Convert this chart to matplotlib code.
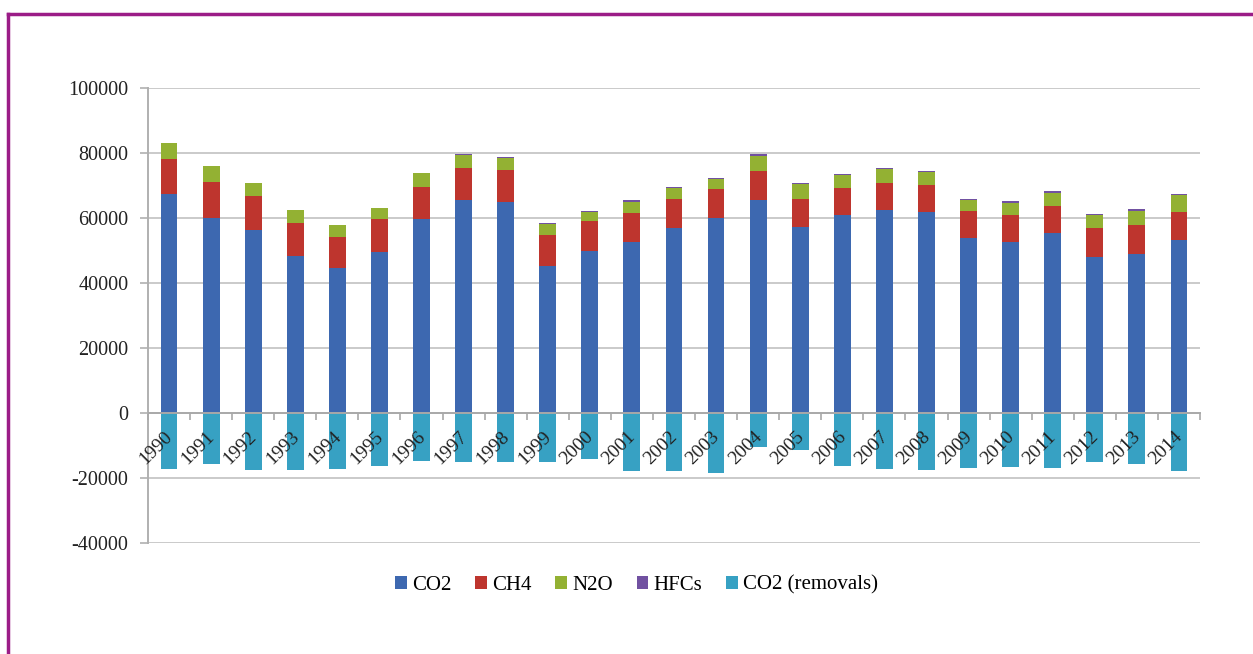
import numpy as np
import matplotlib
matplotlib.use('Agg')
import matplotlib.pyplot as plt
import matplotlib.transforms as mtransforms
from matplotlib.lines import Line2D

# values (Gg CO2 eq.)
years = [str(y) for y in range(1990, 2015)]
co2 = [67300, 60000, 56300, 48300, 44500, 49400, 59700, 65400, 64800, 45300,
       49700, 52700, 56800, 60000, 65600, 57300, 60900, 62400, 61800, 53900,
       52700, 55300, 48000, 49000, 53200]
ch4 = [10900, 11200, 10500, 10200, 9600, 10200, 10000, 10000, 10000, 9400,
       9400, 8700, 9000, 8900, 8900, 8500, 8200, 8500, 8500, 8200,
       8200, 8400, 8800, 8900, 8800]
n2o = [5000, 4800, 4100, 3900, 3600, 3600, 4100, 3900, 3700, 3500,
       2800, 3600, 3300, 3000, 4700, 4600, 4200, 4100, 3800, 3400,
       3800, 4100, 4000, 4300, 5000]
hfcs = [0, 0, 0, 0, 0, 0, 0, 400, 400, 200,
        400, 400, 500, 500, 400, 400, 400, 400, 500, 500,
        400, 500, 300, 500, 300]
co2_removals = [-17200, -15600, -17600, -17600, -17200, -16200, -14800, -15000, -15000, -15000,
                -14300, -17900, -17700, -18400, -10600, -11300, -16400, -17100, -17600, -16900,
                -16600, -16900, -15000, -15600, -17900]
yticks = [-40000, -20000, 0, 20000, 40000, 60000, 80000, 100000]

series = ['CO2', 'CH4', 'N2O', 'HFCs', 'CO2 (removals)']
colors = ['#3D68B0', '#BE352E', '#93B133', '#7151A1', '#37A1C3']

plt.rcParams['font.family'] = ['Liberation Serif', 'DejaVu Serif']
plt.rcParams['axes.unicode_minus'] = False

fig = plt.figure(figsize=(12.53, 6.54), dpi=100)
ax = fig.add_axes([0.1181, 0.1697, 0.8396, 0.6957])

x = np.arange(len(years))
w = 0.4
bottom = np.zeros(len(years))
for vals, col, lab in zip([co2, ch4, n2o, hfcs], colors[:4], series[:4]):
    ax.bar(x, vals, w, bottom=bottom, color=col, label=lab, zorder=1)
    bottom += np.array(vals)
ax.bar(x, co2_removals, w, color=colors[4], label=series[4], zorder=1)

ax.set_xlim(-0.5, len(years) - 0.5)
ax.set_ylim(-40000, 100000)
ax.set_yticks(yticks)
# gridlines under the bars, axis (tick labels) above them
for yv in yticks:
    if yv != 0:
        ax.axhline(yv, color='#CACACA', lw=1.4, zorder=0.1)
ax.set_axisbelow(False)

for s in ['top', 'right']:
    ax.spines[s].set_visible(False)
ax.spines['left'].set_color('#B0B0B0')
ax.spines['left'].set_linewidth(1.4)
ax.spines['bottom'].set_position(('data', 0))
ax.spines['bottom'].set_color('#A8A8A8')
ax.spines['bottom'].set_linewidth(1.4)

ax.tick_params(axis='y', labelsize=14.5, length=6, width=1.2, color='#B0B0B0', pad=8)
ax.set_xticks(x)
ax.set_xticks(np.arange(-0.5, len(years), 1), minor=True)
ax.tick_params(axis='x', which='major', length=0, pad=11, labelsize=14)
ax.tick_params(axis='x', which='minor', length=5, width=1.2, color='#A8A8A8', direction='out')
ax.set_xticklabels(years, rotation=45, ha='right', va='top')
offset = mtransforms.ScaledTranslation(7 / 100, 0, fig.dpi_scale_trans)
for lbl in ax.get_xticklabels():
    lbl.set_transform(lbl.get_transform() + offset)
    lbl.set_color('#222222')
for lbl in ax.get_yticklabels():
    lbl.set_color('#222222')

fig.legend(loc='center', bbox_to_anchor=(0.508, 0.1055), ncol=5, frameon=False,
           fontsize=15, handlelength=0.55, handleheight=0.55, handletextpad=0.25,
           columnspacing=1.15)

# purple frame lines (top and left)
fig.add_artist(Line2D([8 / 1253, 1], [1 - 14 / 654, 1 - 14 / 654], transform=fig.transFigure,
                      color='#9B1C87', lw=2.5))
fig.add_artist(Line2D([8 / 1253, 8 / 1253], [0, 1 - 14 / 654], transform=fig.transFigure,
                      color='#9B1C87', lw=2.5))

fig.savefig('out.png', dpi=100)
